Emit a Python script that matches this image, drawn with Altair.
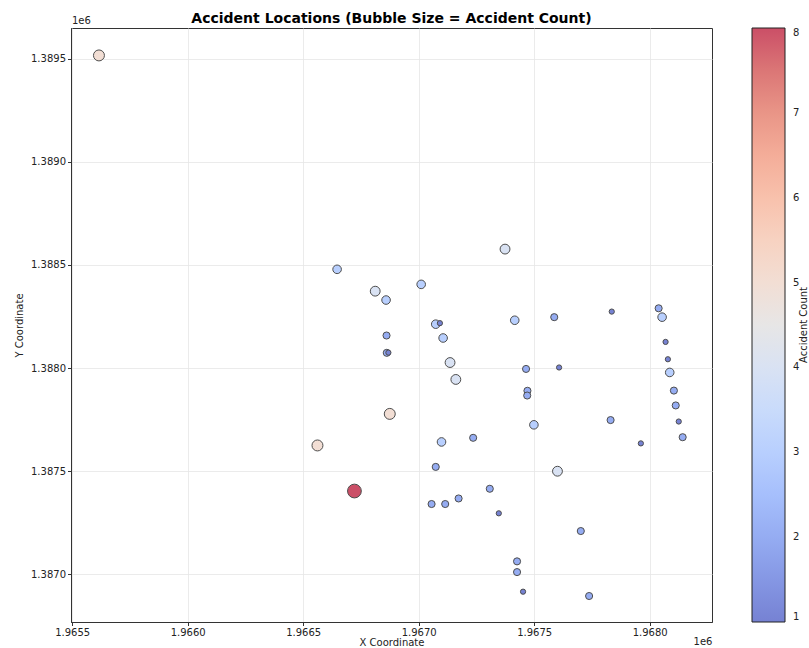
import altair as alt
import pandas as pd

# Data
x_coord = [1965616, 1966647, 1966812, 1966859, 1967011, 1967374, 1966861, 1966862, 1966869,
           1967074, 1967092, 1967106, 1967136, 1967161, 1966875, 1966562, 1966722, 1967099,
           1967236, 1967074, 1967056, 1967115, 1967173, 1967308, 1967347, 1967601, 1967702,
           1967426, 1967426, 1967452, 1967738, 1967499, 1967416, 1967587, 1967836, 1968039,
           1968054, 1968069, 1968079, 1968087, 1968105, 1968113, 1968126, 1968143, 1967465,
           1967608, 1967471, 1967470, 1967831, 1967962]
y_coord = [1389516, 1388479, 1388373, 1388330, 1388406, 1388577, 1388158, 1388074, 1388075,
           1388213, 1388218, 1388146, 1388027, 1387945, 1387778, 1387625, 1387404, 1387642,
           1387662, 1387521, 1387341, 1387341, 1387368, 1387415, 1387296, 1387500, 1387210,
           1387063, 1387011, 1386916, 1386895, 1387725, 1388232, 1388247, 1388274, 1388290,
           1388247, 1388127, 1388043, 1387979, 1387891, 1387819, 1387741, 1387665, 1387996,
           1388003, 1387890, 1387867, 1387748, 1387635]
count = [5, 3, 4, 3, 3, 4, 2, 2, 1,
         3, 1, 3, 4, 4, 5, 5, 8, 3,
         2, 2, 2, 2, 2, 2, 1, 4, 2,
         2, 2, 1, 2, 3, 3, 2, 1, 2,
         3, 1, 1, 3, 2, 2, 1, 2, 2,
         1, 2, 2, 2, 1]

x_ticks = [1965500, 1966000, 1966500, 1967000, 1967500, 1968000]
y_ticks = [1387000, 1387500, 1388000, 1388500, 1389000, 1389500]
cbar_ticks = [1, 2, 3, 4, 5, 6, 7, 8]

# coolwarm colormap, blended at alpha 0.7 over white
cmap_colors = ["#7682d3", "#8ba0eb", "#a3bcfb", "#bbd2ff", "#d3e1f8", "#e7e6e6",
               "#f6dbcd", "#f9c5b0", "#f3a995", "#e2867c", "#cb4f67"]
cmap_stops = [1 + 0.7 * i for i in range(11)]

df = pd.DataFrame({"x": x_coord, "y": y_coord, "count": count, "order": list(range(len(count)))})

points = alt.Chart(df).mark_circle(
    opacity=1, stroke="#4d4d4d", strokeWidth=1
).encode(
    x=alt.X("x:Q", title="X Coordinate",
            scale=alt.Scale(domain=[1965495, 1968270], nice=False, zero=False),
            axis=alt.Axis(values=x_ticks, labelExpr="format(datum.value/1e6, '.4f')",
                          titlePadding=0)),
    y=alt.Y("y:Q", title="Y Coordinate",
            scale=alt.Scale(domain=[1386769, 1389649], nice=False, zero=False),
            axis=alt.Axis(values=y_ticks, labelExpr="format(datum.value/1e6, '.4f')",
                          titlePadding=6)),
    size=alt.Size("count:Q", scale=alt.Scale(domain=[0, 8], range=[4, 190]), legend=None),
    color=alt.Color("count:Q",
                    scale=alt.Scale(domain=cmap_stops, range=cmap_colors, interpolate="rgb"),
                    legend=alt.Legend(title=None, values=cbar_ticks, format="d",
                                      gradientLength=594, gradientThickness=33,
                                      gradientStrokeColor="#222", gradientStrokeWidth=1,
                                      labelOffset=8, labelFontSize=10, labelBaseline="middle",
                                      offset=40, direction="vertical")),
    order=alt.Order("order:Q"),
)

off_bottom = alt.Chart(pd.DataFrame({"t": ["1e6"]})).mark_text(
    fontSize=10, font="DejaVu Sans", color="#222"
).encode(text="t:N", x=alt.value(632), y=alt.value(614))

off_top = alt.Chart(pd.DataFrame({"t": ["1e6"]})).mark_text(
    fontSize=10, font="DejaVu Sans", color="#222", align="left"
).encode(text="t:N", x=alt.value(1), y=alt.value(-7))

cbar_label = alt.Chart(pd.DataFrame({"t": ["Accident Count"]})).mark_text(
    fontSize=10, font="DejaVu Sans", color="#222", angle=270
).encode(text="t:N", x=alt.value(733), y=alt.value(297))

chart = alt.layer(points, off_bottom, off_top, cbar_label).properties(
    width=641, height=594,
    title=alt.TitleParams("Accident Locations (Bubble Size = Accident Count)",
                          font="DejaVu Sans", fontSize=14, fontWeight="bold",
                          frame="group", anchor="middle", offset=5, dy=15, color="#000"),
    autosize=alt.AutoSizeParams(type="none"),
    padding={"left": 71, "top": 28, "right": 97, "bottom": 26},
).configure_view(
    stroke="#333", strokeWidth=1
).configure_axis(
    labelFont="DejaVu Sans", titleFont="DejaVu Sans", labelFontSize=10, titleFontSize=10,
    titleFontWeight="normal", labelColor="#222", titleColor="#222",
    domainColor="#333", tickColor="#333", tickSize=3.5, labelPadding=2,
    gridColor="#e6e6e6", gridWidth=0.8
).configure_legend(
    labelFont="DejaVu Sans", titleFont="DejaVu Sans", labelColor="#222", titleColor="#222"
)

chart.save("out.html", embed_options={"renderer": "svg", "actions": False})
